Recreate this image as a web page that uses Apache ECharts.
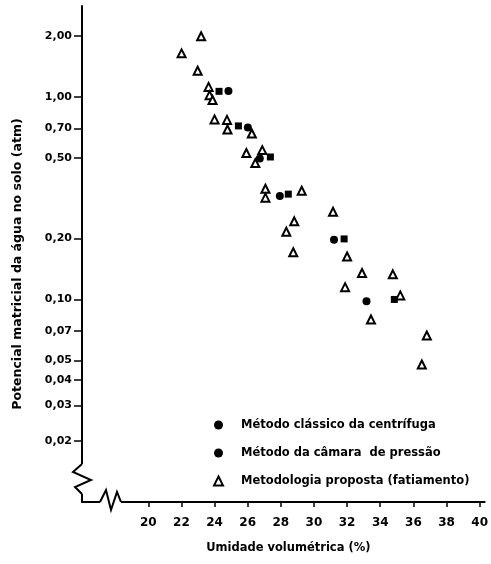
<!DOCTYPE html>
<html>
<head>
<meta charset="utf-8">
<script src="https://cdn.jsdelivr.net/npm/echarts@6/dist/echarts.min.js"></script>
<style>
html,body{margin:0;padding:0;background:#fff;}
#main{width:491px;height:564px;}
</style>
</head>
<body>
<div id="main"></div>
<script>
// pontos: [umidade (%), potencial (atm)]
var centrifuga = [
  [24.84, 1.07], [26.01, 0.706], [26.73, 0.496], [27.94, 0.324], [31.21, 0.197], [33.17, 0.098]
];
var camara = [
  [24.27, 1.065], [25.44, 0.719], [27.37, 0.505], [28.45, 0.331], [31.82, 0.199], [34.85, 0.100]
];
var fatiamento = [
  [23.19, 1.99], [22.01, 1.64], [22.98, 1.345], [23.64, 1.12], [23.70, 1.02], [23.88, 0.966],
  [24.00, 0.774], [24.75, 0.77], [24.78, 0.69], [26.25, 0.66], [25.92, 0.528], [26.88, 0.546],
  [26.46, 0.471], [27.07, 0.352], [27.07, 0.318], [29.26, 0.344], [31.15, 0.271], [28.81, 0.243],
  [28.33, 0.216], [28.75, 0.171], [32.00, 0.163], [32.90, 0.135], [34.76, 0.133], [31.88, 0.115],
  [35.21, 0.1047], [33.44, 0.0796], [36.81, 0.0664], [36.51, 0.0477]
];
var xTicks = [20, 22, 24, 26, 28, 30, 32, 34, 36, 38, 40];
var yTicks = [0.02, 0.03, 0.04, 0.05, 0.07, 0.1, 0.2, 0.5, 0.7, 1, 2];
var nomes = ['Método clássico da centrífuga', 'Método da câmara  de pressão', 'Metodologia proposta (fatiamento)'];

var FONT = 'DejaVu Sans';
var gLeft = 82, gTop = 6, gRight = 4, gBottom = 62;
var axisY = 564 - gBottom; // linha do eixo x
var chart = echarts.init(document.getElementById('main'));

var option = {
  animation: false,
  backgroundColor: '#fff',
  textStyle: { fontFamily: FONT },
  grid: { left: gLeft, top: gTop, right: gRight, bottom: gBottom },
  legend: {
    orient: 'vertical',
    left: 213,
    top: 418,
    padding: 0,
    itemWidth: 9,
    itemHeight: 9,
    itemGap: 14,
    textStyle: { fontFamily: FONT, fontSize: 11.5, fontWeight: 'bold', color: '#000', padding: [0, 0, 0, 13], lineHeight: 14 },
    data: [
      { name: nomes[0], icon: 'circle' },
      { name: nomes[1], icon: 'circle' },
      { name: nomes[2], icon: 'triangle' }
    ]
  },
  xAxis: {
    type: 'value',
    min: 16,
    max: 40.3,
    name: 'Umidade volumétrica (%)',
    nameLocation: 'middle',
    nameGap: 40,
    nameTextStyle: { fontFamily: FONT, fontSize: 11.5, fontWeight: 'bold', color: '#000', padding: [0, 0, 0, 10] },
    axisLine: { lineStyle: { color: '#000', width: 2 } },
    axisTick: { length: 5, lineStyle: { color: '#000', width: 1.5 }, customValues: xTicks },
    axisLabel: { customValues: xTicks, margin: 15, fontFamily: FONT, fontSize: 12, fontWeight: 'bold', color: '#000' },
    splitLine: { show: false }
  },
  yAxis: {
    type: 'log',
    min: 0.01,
    max: 2.81,
    name: 'Potencial matricial da água no solo (atm)',
    nameLocation: 'middle',
    nameGap: 58,
    nameTextStyle: { fontFamily: FONT, fontSize: 12.5, fontWeight: 'bold', color: '#000', padding: [0, 20, 0, 0] },
    axisLine: { lineStyle: { color: '#000', width: 2 } },
    axisTick: { length: 8, lineStyle: { color: '#000', width: 1.5 }, customValues: yTicks },
    axisLabel: {
      customValues: yTicks, margin: 10, fontFamily: FONT, fontSize: 11, fontWeight: 'bold', color: '#000',
      formatter: function (v) { return Number(v).toFixed(2).replace('.', ','); }
    },
    splitLine: { show: false }
  },
  series: [
    {
      name: nomes[0], type: 'scatter', data: centrifuga,
      symbol: 'circle', symbolSize: 8,
      itemStyle: { color: '#000', opacity: 1 }
    },
    {
      name: nomes[1], type: 'scatter', data: camara,
      symbol: 'rect', symbolSize: 7,
      itemStyle: { color: '#000', opacity: 1 }
    },
    {
      name: nomes[2], type: 'scatter', data: fatiamento,
      symbol: 'triangle', symbolSize: 8,
      itemStyle: { color: '#fff', borderColor: '#000', borderWidth: 2, opacity: 1 }
    }
  ],
  graphic: [
    // quebras dos eixos
    { type: 'rect', shape: { x: 70, y: 464, width: 25, height: 30 }, style: { fill: '#fff' }, z: 100 },
    { type: 'polyline', shape: { points: [[gLeft, 464], [73, 472], [91, 480], [75, 487], [gLeft, 494]] },
      style: { stroke: '#000', lineWidth: 2, fill: null }, z: 101 },
    { type: 'rect', shape: { x: 100, y: axisY - 2, width: 21, height: 4 }, style: { fill: '#fff' }, z: 100 },
    { type: 'polyline', shape: { points: [[100, axisY], [106, 490], [111, 510], [117, 492], [121, axisY]] },
      style: { stroke: '#000', lineWidth: 2, fill: null }, z: 101 }
  ]
};
chart.setOption(option);
</script>
</body>
</html>
